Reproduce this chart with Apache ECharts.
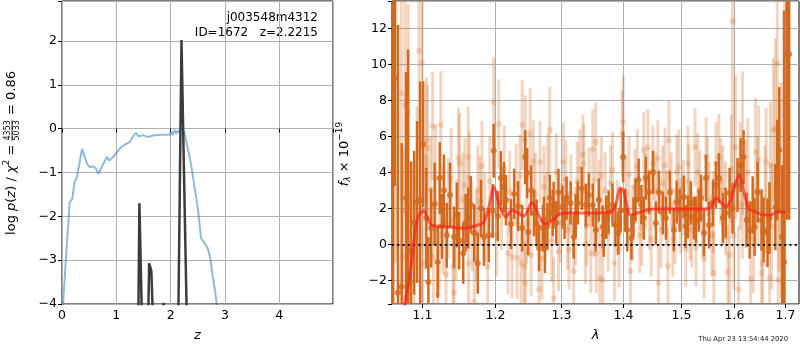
<!DOCTYPE html>
<html><head><meta charset="utf-8">
<script src="https://cdn.jsdelivr.net/npm/echarts@6/dist/echarts.min.js"></script>
<style>html,body{margin:0;padding:0;background:#fff}#c{width:800px;height:350px}</style>
</head><body><div id="c"></div>
<script>
const FONT = 'DejaVu Sans';
const TICK_FS = 12.5;

// ---------- left panel: redshift PDF ----------
const zTicks = [0, 1, 2, 3, 4];
const chi2Curve = [ // [z, log p(z)] chi2-based curve (blue)
  [0.0,-4.6],[0.02,-4.0],[0.08,-2.8],[0.12,-2.1],[0.14,-1.68],[0.19,-1.6],[0.23,-1.22],[0.275,-1.11],
  [0.32,-0.80],[0.37,-0.46],[0.42,-0.65],[0.46,-0.80],[0.51,-0.88],[0.57,-0.86],[0.62,-0.90],
  [0.67,-1.03],[0.71,-0.94],[0.76,-0.80],[0.83,-0.65],[0.87,-0.73],[0.94,-0.65],[1.01,-0.54],
  [1.09,-0.42],[1.15,-0.37],[1.24,-0.31],[1.30,-0.19],[1.36,-0.10],[1.41,-0.18],[1.49,-0.15],
  [1.58,-0.19],[1.70,-0.15],[1.85,-0.14],[1.98,-0.14],[2.01,-0.06],[2.04,-0.15],[2.07,-0.03],
  [2.10,-0.12],[2.13,-0.04],[2.16,-0.10],[2.20,0.01],[2.25,-0.08],[2.31,-0.42],[2.37,-0.77],
  [2.43,-1.26],[2.50,-1.80],[2.56,-2.50],[2.62,-2.60],[2.68,-2.72],[2.73,-2.95],[2.77,-3.33],
  [2.82,-3.71],[2.86,-4.1],[2.90,-4.5]
];
const pzCurve = [ // [z, log p(z)] posterior (dark)
  [1.30,-9],[1.405,-4.5],[1.425,-1.70],[1.45,-1.70],[1.475,-4.5],[1.55,-9],
  [1.585,-4.5],[1.605,-3.07],[1.625,-3.10],[1.645,-3.25],[1.66,-3.25],[1.68,-4.5],[1.78,-9],
  [1.85,-4.5],[1.87,-3.97],[1.89,-4.5],[2.0,-9],
  [2.14,-4.5],[2.20,2.02],[2.235,2.02],[2.30,-4.5],[2.40,-9]
];
const objName = 'j003548m4312';
const objInfo = 'ID=1672   z=2.2215';

// ---------- right panel: spectrum ----------
const lamTicks = [1.1, 1.2, 1.3, 1.4, 1.5, 1.6, 1.7];
const lamTickLabels = ['1.1', '1.2', '1.3', '1.4', '1.5', '1.6', '1.7'];
const darkPoints = [ // [lambda, flux, err]
  [1.0625,4,12],[1.0646,9.24,6],[1.0686,-2.7,14.9],[1.0734,-2.36,8],[1.079,2.57,7],[1.0817,-1.76,12.6],
  [1.0855,-0.4,5],[1.0895,1.2,4],[1.0934,2.35,4.5],[1.0974,2.46,6.6],[1.1014,5.57,3.5],[1.1056,1.46,2.8],
  [1.1083,-2.1,2.5],[1.112,0.9,2.2],[1.1167,2.24,2.3],[1.1208,-0.98,2.0],[1.1236,3.68,2.0],[1.1265,1.0,1.8],
  [1.1292,3.0,2.0],[1.133,0.5,1.8],[1.1375,2.74,1.8],[1.143,0.4,1.7],[1.147,1.63,1.8],[1.150,0.2,1.6],
  [1.1556,-0.5,1.7],[1.159,1.2,1.6],[1.1625,1.46,1.7],[1.166,2.2,1.6],[1.171,0.63,1.6],[1.176,-1.05,1.7],
  [1.1806,2.0,1.6],[1.1847,0.4,1.6],[1.1917,0.5,1.5],[1.1972,1.85,1.5],[1.1986,5.2,1.5],[1.2045,1.57,1.4],
  [1.209,3.68,1.5],[1.2134,3.18,1.4],[1.2164,2.46,1.4],[1.2239,1.13,1.4],[1.2284,2.8,1.4],[1.2343,2.13,1.4],
  [1.2403,0.9,1.3],[1.2448,4.85,1.5],[1.2478,3.96,1.4],[1.2493,0.68,1.3],[1.2537,3.0,1.4],[1.2582,1.74,1.3],
  [1.262,1.2,1.3],[1.2657,-0.2,1.3],[1.2716,0.9,1.3],[1.2731,1.35,1.3],[1.2746,-0.2,1.4],[1.2785,1.0,1.3],
  [1.2821,2.57,1.3],[1.2866,1.74,1.3],[1.288,2.18,1.3],[1.292,1.2,1.2],[1.2955,2.9,1.3],[1.3016,2.07,1.2],
  [1.305,1.5,1.2],[1.3081,2.57,1.2],[1.3145,2.3,1.2],[1.3194,0.4,1.2],[1.3225,1.6,1.2],[1.3258,2.3,1.2],
  [1.3323,3.1,1.2],[1.3387,2.18,1.2],[1.3435,2.74,1.2],[1.35,2.18,1.2],[1.3548,0.8,1.2],[1.3597,2.46,1.2],
  [1.3661,0.96,1.2],[1.3677,0.5,1.2],[1.372,1.5,1.2],[1.3758,1.8,1.2],[1.3823,2.18,1.2],[1.3871,1.07,1.2],
  [1.392,0.63,1.2],[1.396,1.9,1.2],[1.40,4.85,1.4],[1.4035,1.9,1.2],[1.407,0.8,1.2],[1.414,0.35,1.2],
  [1.4175,1.5,1.1],[1.421,2.46,1.2],[1.4263,3.57,1.2],[1.431,2.2,1.1],[1.435,1.46,1.2],[1.4386,3.68,1.2],
  [1.4439,2.9,1.2],[1.4509,4.0,1.2],[1.4561,1.18,1.2],[1.4614,2.9,1.2],[1.4684,1.74,1.2],[1.4737,1.46,1.2],
  [1.4807,2.9,1.2],[1.4877,0.8,1.2],[1.493,2.35,1.2],[1.4982,1.9,1.2],[1.5056,2.63,1.2],[1.509,1.0,1.2],
  [1.513,1.52,1.2],[1.5185,2.3,1.2],[1.5241,1.46,1.2],[1.5278,1.35,1.3],[1.533,1.9,1.2],[1.537,2.57,1.3],
  [1.5426,0.63,1.3],[1.5463,3.68,1.3],[1.5519,1.07,1.3],[1.5593,2.3,1.3],[1.5648,3.3,1.3],[1.5704,3.68,1.4],
  [1.5778,1.46,1.4],[1.5833,1.74,1.4],[1.5907,2.85,1.4],[1.5963,2.0,1.4],[1.6059,3.3,1.5],[1.6118,4.4,1.5],
  [1.6176,4.85,1.5],[1.6235,1.35,1.5],[1.6294,0.8,1.6],[1.6353,2.18,1.6],[1.6392,0.96,1.6],[1.6451,2.9,1.7],
  [1.6529,1.35,1.7],[1.6569,0.8,1.8],[1.6647,0.63,1.9],[1.6686,1.46,2.0],[1.6804,2.07,2.4],[1.6843,4.13,2.8],
  [1.6882,5.24,3.5],[1.6941,0.4,4],[1.6980,-1.0,14],[1.7045,10.57,9.2],[1.7085,10.57,9.2]
];
const lightPoints = [ // [lambda, flux, err]
  [1.066,7.0,8],[1.073,8.4,6],[1.075,-0.7,6],[1.0777,7.74,6],[1.080,1.74,5],[1.0817,7.35,6],[1.085,-2.15,5],
  [1.0895,-0.4,5],[1.0934,3.68,4],[1.096,10.76,6],[1.1,10.1,5],[1.101,-1.05,4],[1.1056,5.79,3.5],[1.107,5.35,3.5],
  [1.114,6.57,3],[1.115,-0.7,3],[1.118,3.68,3],[1.121,-2.8,3],[1.125,6.63,3],[1.128,1.35,3],[1.132,-1.7,3],
  [1.139,3.68,2.8],[1.1417,-1.25,2.8],[1.143,-2.7,2.8],[1.149,4.79,2.8],[1.1505,4.5,2.8],[1.155,2.5,2.6],
  [1.1625,4.85,2.8],[1.163,-1.05,2.6],[1.164,3.68,2.6],[1.168,1.0,2.5],[1.171,-3.2,2.5],[1.176,3.0,2.5],
  [1.182,4.35,2.5],[1.186,1.5,2.5],[1.19,-1.25,2.5],[1.1986,7.9,2.5],[1.2060,6.68,2.5],[1.21,2.0,2.3],
  [1.2194,-0.5,2.3],[1.2254,-0.7,2.3],[1.2313,3.3,2.3],[1.2328,-0.76,2.3],[1.2388,-1.05,2.3],[1.2403,6.63,2.5],
  [1.2433,-1.25,2.3],[1.2448,5.79,2.5],[1.2450,-2.15,2.3],[1.2522,6.17,2.5],[1.2537,-0.6,2.3],[1.2600,2.8,2.3],
  [1.2657,-2.5,2.3],[1.2672,4.57,2.3],[1.2731,3.18,2.3],[1.275,1.5,2.3],[1.2821,6.35,2.4],[1.288,-3.0,2.3],
  [1.2955,-0.4,2.2],[1.3032,4.57,2.2],[1.3097,0.8,2.2],[1.315,2.8,2.2],[1.3194,-1.5,2.2],[1.325,3.5,2.2],
  [1.334,5.0,2.2],[1.3355,4.5,2.2],[1.34,1.0,2.2],[1.3468,-0.5,2.2],[1.35,5.3,2.2],[1.3548,5.68,2.2],
  [1.3555,-0.5,2.2],[1.36,2.5,2.2],[1.3613,-1.87,2.2],[1.3661,-1.98,2.2],[1.370,3.0,2.1],[1.3823,4.13,2.1],
  [1.3855,-1.05,2.1],[1.39,1.5,2.1],[1.3984,6.17,2.4],[1.4,6.8,2.6],[1.405,2.8,2.1],[1.4123,-1.48,2.1],
  [1.420,3.2,2.1],[1.428,0.5,2.1],[1.435,5.24,2.1],[1.4421,5.4,2.1],[1.445,1.8,2.1],[1.4509,4.5,2.1],
  [1.455,3.0,2.1],[1.4596,4.79,2.1],[1.4605,-2.15,2.1],[1.468,3.4,2.1],[1.475,2.0,2.1],[1.4772,-1.2,2.1],
  [1.479,5.79,2.2],[1.486,0.3,2.1],[1.493,4.02,2.1],[1.50,1.6,2.1],[1.5093,-0.26,2.1],[1.513,4.5,2.1],
  [1.5148,3.46,2.1],[1.520,0.8,2.1],[1.526,5.4,2.2],[1.5278,-0.15,2.2],[1.535,3.0,2.2],[1.5426,-0.82,2.2],
  [1.5463,4.85,2.2],[1.552,2.4,2.2],[1.56,1.8,2.3],[1.5611,-1.6,2.3],[1.5648,4.5,2.3],[1.5704,4.85,2.4],
  [1.578,3.0,2.5],[1.5870,-1.54,2.6],[1.5907,-0.6,2.8],[1.5963,12.4,9],[1.602,5.4,4],[1.6078,-2.5,3.5],
  [1.615,2.2,3],[1.6157,5.62,4],[1.622,2.8,3],[1.6314,-1.93,3],[1.6412,5.13,3],[1.6471,4.73,3],
  [1.6529,-1.6,3],[1.6549,-1.05,3],[1.66,2.5,3],[1.6686,-1.87,3.5],[1.6706,4.4,3.5],[1.6765,6.35,4],
  [1.6804,6.46,5],[1.6843,10.07,6],[1.686,-1.98,4],[1.692,3.0,6],[1.699,8.0,9],
  [1.105,1.8,3.2],[1.111,3.0,3],[1.123,0.5,3],[1.135,2.0,2.8],[1.146,0.8,2.8],[1.158,3.3,2.6],
  [1.174,0.5,2.5],[1.179,2.4,2.5],[1.193,3.5,2.5],[1.203,0.5,2.3],[1.214,4.2,2.4],[1.222,2.9,2.3],
  [1.237,3.8,2.3],[1.247,1.2,2.3],[1.257,4.6,2.3],[1.270,-0.8,2.3],[1.279,3.9,2.3],[1.285,0.2,2.3],
  [1.292,4.0,2.2],[1.299,1.2,2.2],[1.307,3.6,2.2],[1.312,-0.3,2.2],[1.322,1.0,2.2],[1.329,4.2,2.2],
  [1.338,0.0,2.2],[1.344,3.2,2.2],[1.352,1.5,2.2],[1.364,3.8,2.2],[1.375,0.6,2.1],[1.379,3.4,2.1],
  [1.393,-0.3,2.1],[1.410,3.9,2.1],[1.416,1.2,2.1],[1.424,4.3,2.1],[1.432,0.9,2.1],[1.438,3.0,2.1],
  [1.448,0.3,2.1],[1.465,0.8,2.1],[1.472,4.4,2.1],[1.483,3.0,2.1],[1.490,1.0,2.1],[1.497,4.3,2.1],
  [1.505,2.6,2.1],[1.517,1.2,2.1],[1.531,4.0,2.2],[1.540,1.5,2.2],[1.549,3.8,2.2],[1.557,0.5,2.3],
  [1.574,3.5,2.4],[1.583,2.0,2.6],[1.594,4.2,3],[1.599,0.5,3],[1.611,3.8,3],[1.626,4.0,3],
  [1.637,0.3,3],[1.645,3.0,3],[1.662,4.6,3],[1.673,1.0,3.5],[1.688,2.5,4]
];
const modelSpectrum = [ // [lambda, flux]
  [1.074,-5.0],[1.0777,-3.3],[1.0843,-1.6],[1.0895,0.24],[1.0947,1.52],[1.1020,1.87],[1.1111,1.13],
  [1.1208,1.0],[1.139,0.96],[1.157,0.9],[1.1764,1.07],[1.1847,1.24],[1.1917,2.07],[1.1990,3.2],
  [1.2060,2.3],[1.2160,1.53],[1.2260,1.9],[1.2340,1.75],[1.2430,1.57],[1.2547,2.31],[1.2620,1.9],
  [1.2680,1.4],[1.2760,1.13],[1.2870,1.35],[1.2985,1.7],[1.3145,1.74],[1.3581,1.74],[1.3790,1.8],
  [1.3871,2.18],[1.3952,3.13],[1.4000,3.0],[1.4070,2.07],[1.4123,1.63],[1.4298,1.8],[1.4526,1.96],
  [1.5000,1.96],[1.5426,1.96],[1.5556,2.07],[1.5648,2.57],[1.5741,2.35],[1.5833,2.07],[1.5926,2.46],
  [1.6020,3.4],[1.6098,3.85],[1.6176,3.0],[1.6275,2.0],[1.6412,1.8],[1.6569,1.63],[1.6706,1.63],
  [1.6843,1.8],[1.7020,1.8]
];
const timestamp = 'Thu Apr 23 13:54:44 2020';

// ---------- helpers ----------
const ln = Math.log;
const mctx = document.createElement('canvas').getContext('2d');
function tw(text, size, italic) {
  mctx.font = (italic ? 'italic ' : '') + size + 'px "' + FONT + '"';
  return mctx.measureText(text).width;
}
function mathLabel(parts, cx, cy) {
  let x = 0; const kids = [];
  parts.forEach(p => {
    if (p.frac) {
      const w = Math.max(tw(p.frac[0], p.size), tw(p.frac[1], p.size));
      kids.push({type:'text', x: x + w/2, y: -0.5, style:{text:p.frac[0], fontSize:p.size, fontFamily:FONT, align:'center', verticalAlign:'bottom', fill:'#000'}});
      kids.push({type:'text', x: x + w/2, y: 0.5, style:{text:p.frac[1], fontSize:p.size, fontFamily:FONT, align:'center', verticalAlign:'top', fill:'#000'}});
      kids.push({type:'line', shape:{x1:x, y1:0, x2:x+w, y2:0}, style:{stroke:'#000', lineWidth:0.8}});
      x += w + 1;
    } else {
      kids.push({type:'text', x: x, y: p.dy || 0, style:{text:p.t, fontSize:p.size, fontStyle:p.italic?'italic':'normal', fontFamily:FONT, align:'left', verticalAlign:'middle', fill:'#000'}});
      x += tw(p.t, p.size, p.italic);
    }
  });
  const W = x;
  kids.forEach(k => { if (k.type === 'text') k.x -= W/2; else { k.shape.x1 -= W/2; k.shape.x2 -= W/2; } });
  return {type:'group', x: cx, y: cy, rotation: Math.PI/2, children: kids, silent: true};
}
const minus = v => String(v).replace('-', '\u2212');
const intLabel = v => (Math.abs(v - Math.round(v)) < 1e-6 ? minus(Math.round(v)) : '');

function errRender(width, color) {
  return function (params, api) {
    const x = api.value(0), y = api.value(1), e = api.value(2);
    const p1 = api.coord([x, y + e]), p2 = api.coord([x, y - e]);
    return {type:'rect', shape:{x:p1[0]-width/2, y:p1[1], width:width, height:p2[1]-p1[1]}, style:{fill:color}};
  };
}

const axisCommon = {
  axisLine: {show:false},
  axisTick: {show:true, inside:false, length:4, lineStyle:{color:'#000', width:1}},
  axisLabel: {color:'#000', fontSize:TICK_FS, fontFamily:FONT, margin:5, formatter:intLabel},
  splitLine: {show:true, lineStyle:{color:'#b0b0b0', width:1}}
};

const LAM_MIN = 1.0610, LAM_MAX = 1.7288;
const DARK = '#d2691e', LIGHT = 'rgba(210,105,30,0.28)';

const chart = echarts.init(document.getElementById('c'), null, {renderer:'canvas'});
chart.setOption({
  animation: false,
  grid: [
    {left:62, top:1, width:271, height:303, show:true, borderColor:'#000', borderWidth:1, backgroundColor:'transparent'},
    {left:392, top:1, width:407, height:303, show:true, borderColor:'#000', borderWidth:1, backgroundColor:'transparent'}
  ],
  xAxis: [
    Object.assign({}, axisCommon, {type:'value', gridIndex:0, min:0, max:4.99, interval:1,
      name:'z', nameLocation:'middle', nameGap:25,
      nameTextStyle:{fontSize:13, fontStyle:'italic', fontFamily:FONT, color:'#000'}}),
    {type:'value', gridIndex:1, min:ln(LAM_MIN), max:ln(LAM_MAX),
      axisLine:{show:false}, axisTick:{show:false}, axisLabel:{show:false}, splitLine:{show:false},
      name:'\u03bb', nameLocation:'middle', nameGap:25,
      nameTextStyle:{fontSize:13, fontStyle:'italic', fontFamily:FONT, color:'#000'}}
  ],
  yAxis: [
    Object.assign({}, axisCommon, {type:'value', gridIndex:0, min:-4, max:2.91, interval:1}),
    Object.assign({}, axisCommon, {type:'value', gridIndex:1, min:-3.32, max:13.53, splitNumber:8})
  ],
  graphic: [
    {type:'text', right: 800-318, top: 12, style:{text:objName, fontSize:12, fontFamily:FONT, fill:'#000', align:'right'}, silent:true},
    {type:'text', right: 800-318, top: 27, style:{text:objInfo, fontSize:12, fontFamily:FONT, fill:'#000', align:'right'}, silent:true},
    {type:'text', right: 800-788, top: 336, style:{text:timestamp, fontSize:6.8, fontFamily:FONT, fill:'#222'}, silent:true},
    mathLabel([
      {t:'log ', size:13}, {t:'p', size:13, italic:true}, {t:'(', size:13}, {t:'z', size:13, italic:true},
      {t:') / ', size:13}, {t:'\u03c7', size:13, italic:true}, {t:'2', size:9, dy:-5}, {t:' = ', size:13},
      {frac:['4353','5033'], size:8}, {t:' = 0.86', size:13}
    ], 12, 153),
    mathLabel([
      {t:'f', size:13, italic:true}, {t:'\u03bb', size:9, italic:true, dy:3}, {t:' \u00d7 10', size:13}, {t:'\u221219', size:9, dy:-5}
    ], 345, 154)
  ],
  series: [
    {type:'line', xAxisIndex:0, yAxisIndex:0, data:chi2Curve, showSymbol:false, clip:true,
      lineStyle:{color:'#1f77b4', opacity:0.5, width:2}, z:3},
    {type:'line', xAxisIndex:0, yAxisIndex:0, data:pzCurve, showSymbol:false, clip:true,
      lineStyle:{color:'#3c3c3c', width:2.5}, z:4},
    // right panel custom x ticks + grid
    {type:'custom', xAxisIndex:1, yAxisIndex:1, z:1, silent:true, clip:false,
      data: lamTicks.map(v => [ln(v), 0]),
      renderItem: function (params, api) {
        const cs = params.coordSys;
        const x = Math.round(api.coord([api.value(0), 0])[0]) + 0.5;
        const bottom = cs.y + cs.height;
        return {type:'group', children:[
          {type:'line', shape:{x1:x, y1:cs.y, x2:x, y2:bottom}, style:{stroke:'#b0b0b0', lineWidth:1}},
          {type:'line', shape:{x1:x, y1:bottom, x2:x, y2:bottom+4}, style:{stroke:'#000', lineWidth:1}},
          {type:'text', x:x, y:bottom+5, style:{text:lamTickLabels[params.dataIndex], fontSize:TICK_FS, fontFamily:FONT, align:'center', verticalAlign:'top', fill:'#000'}}
        ]};
      }},
    {type:'custom', xAxisIndex:1, yAxisIndex:1, z:2, silent:true, clip:true,
      data: lightPoints.map(p => [ln(p[0]), p[1], p[2]]), renderItem: errRender(3, LIGHT)},
    {type:'scatter', xAxisIndex:1, yAxisIndex:1, z:3, silent:true, symbolSize:6, clip:true,
      data: lightPoints.map(p => [ln(p[0]), p[1]]), itemStyle:{color:LIGHT}},
    {type:'custom', xAxisIndex:1, yAxisIndex:1, z:4, silent:true, clip:true,
      data: darkPoints.map(p => [ln(p[0]), p[1], p[2]]), renderItem: errRender(2.5, DARK)},
    {type:'scatter', xAxisIndex:1, yAxisIndex:1, z:5, silent:true, symbolSize:6, clip:true,
      data: darkPoints.map(p => [ln(p[0]), p[1]]), itemStyle:{color:DARK}},
    {type:'line', xAxisIndex:1, yAxisIndex:1, z:6, silent:true, clip:true, showSymbol:false, smooth:0.3,
      data: modelSpectrum.map(p => [ln(p[0]), p[1]]),
      lineStyle:{color:'#ff1a1a', opacity:0.65, width:3},
      markLine:{silent:true, symbol:'none', label:{show:false}, data:[{yAxis:0}],
        lineStyle:{color:'#000', type:[2, 3.3], width:2, opacity:0.9}}}
  ]
});
</script></body></html>
